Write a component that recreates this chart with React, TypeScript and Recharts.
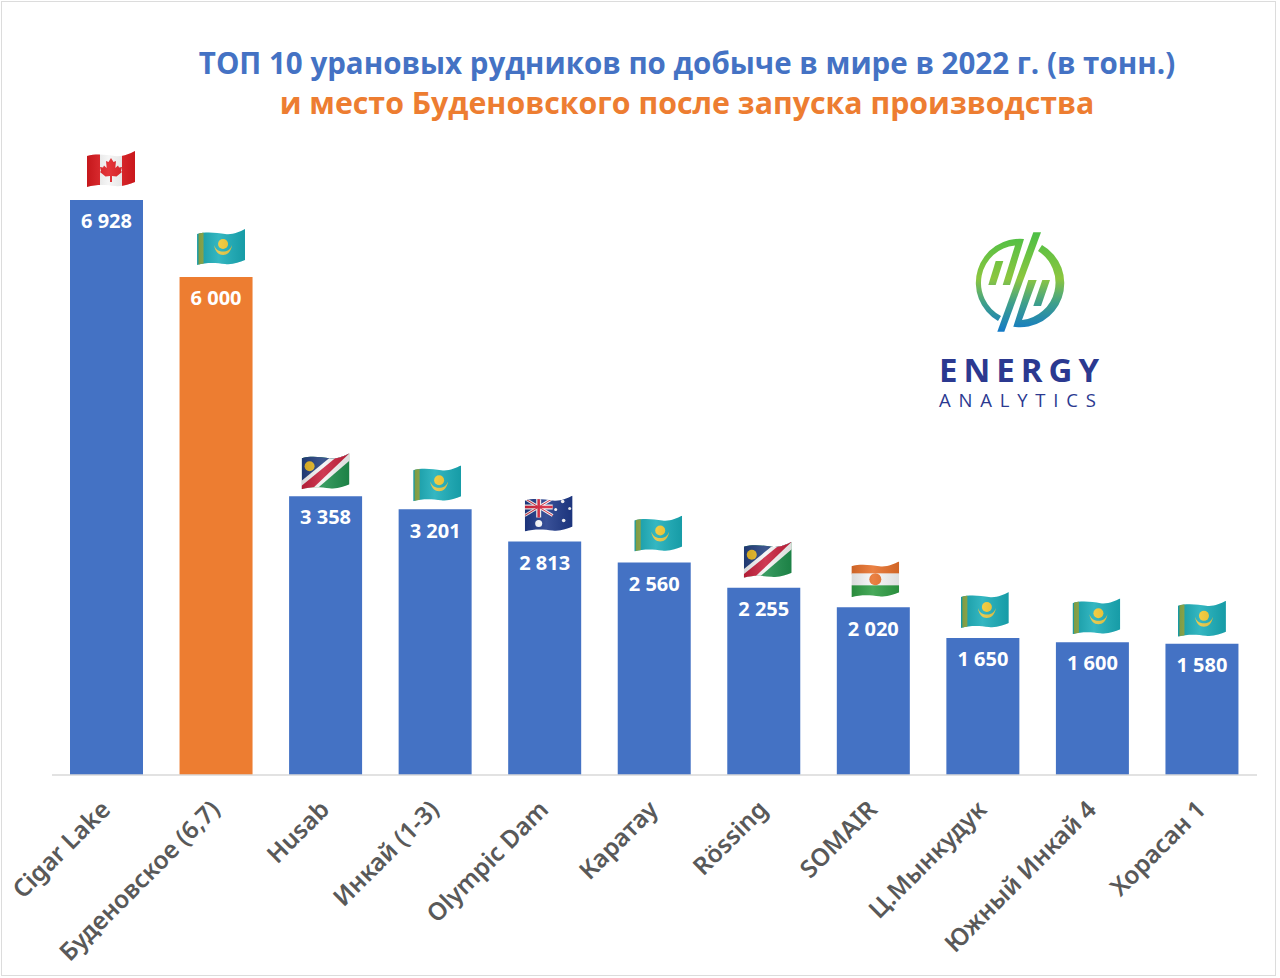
import { BarChart, Bar, XAxis, YAxis, Cell, LabelList } from 'recharts';

// Рудники и добыча, тонн
const mines = ['Cigar Lake', 'Буденовское (6,7)', 'Husab', 'Инкай (1-3)', 'Olympic Dam', 'Каратау', 'Rössing', 'SOMAIR', 'Ц.Мынкудук', 'Южный Инкай 4', 'Хорасан 1'];
const output = [6928, 6000, 3358, 3201, 2813, 2560, 2255, 2020, 1650, 1600, 1580];
const countries = ['ca', 'kz', 'na', 'kz', 'au', 'kz', 'na', 'ne', 'kz', 'kz', 'kz'];
const yTicks = [0, 7000];

const BLUE = '#4472C4';
const ORANGE = '#ED7D31';
const HIGHLIGHT = 'Буденовское (6,7)';

const data = mines.map((name, i) => ({ name, value: output[i], country: countries[i] }));

const FLAG_W = 48;
const FLAG_H = 36;
// небольшие сдвиги флагов относительно столбца
const flagDx = [4.5, 5, 0, 2, 4, 4, 4, 2, 2, 4, 0];
const flagDy = [-31, -30, -25, -26, -28, -29, -28, -28, -28, -26, -25];
const waveClip = 'M0 5 C10 2 20 4 28 5 C36 6 42 3 48 0 L48 31 C42 33 36 36 28 35 C20 34 10 33 0 36 Z';

function FlagBody({ country }: { country: string }) {
  if (country === 'ca') {
    return (
      <g>
        <rect width={48} height={38} fill="#f4f4f4" />
        <rect width={13} height={38} fill="#e01a1f" />
        <rect x={35} width={13} height={38} fill="#e01a1f" />
        <path d="M24 7 L26.5 11 L29 10 L28.3 17 L31 14.5 L32 16.5 L35 16 L34 20 L35 21 L29.5 25.5 L25 25 L25 31 L23 31 L23 25 L18.5 25.5 L13 21 L14 20 L13 16 L16 16.5 L17 14.5 L19.7 17 L19 10 L21.5 11 Z" fill="#e01a1f" />
      </g>
    );
  }
  if (country === 'kz') {
    return (
      <g>
        <rect width={48} height={38} fill="#19adb9" />
        <rect x={1.5} width={5} height={38} fill="#8fae4a" />
        <circle cx={26} cy={15} r={5} fill="#f1c62c" />
        <path d="M17 16 C18 23 22 26 26 26 C30 26 34 23 35 16 C33 21 30 22.5 26 22.5 C22 22.5 19 21 17 16 Z" fill="#e4c43c" />
      </g>
    );
  }
  if (country === 'na') {
    return (
      <g>
        <rect width={48} height={38} fill="#1f8f4d" />
        <path d="M0 0 L48 0 L0 36 Z" fill="#23407f" />
        <path d="M-2 29 L36 -2 L52 -2 L52 4 L10 40 L-2 40 Z" fill="#f5f5f5" />
        <path d="M-2 34 L42 -2 L50 -2 L6 40 L-2 40 Z" fill="#c8203c" />
        <circle cx={8} cy={13} r={5} fill="#e8b923" />
      </g>
    );
  }
  if (country === 'au') {
    return (
      <g>
        <rect width={48} height={38} fill="#1f3a8a" />
        <path d="M0 3 L28 20 M0 20 L28 3" stroke="#f2f2f2" strokeWidth={3} />
        <path d="M14 2 L14 22 M0 11.5 L28 11.5" stroke="#f2f2f2" strokeWidth={5} />
        <path d="M14 2 L14 22 M0 11.5 L28 11.5" stroke="#d6223a" strokeWidth={2.5} />
        <path d="M0 3 L28 20 M0 20 L28 3" stroke="#d6223a" strokeWidth={1} />
        <circle cx={14} cy={28} r={3.5} fill="#fff" />
        <circle cx={38} cy={6} r={1.8} fill="#fff" />
        <circle cx={31} cy={14} r={1.5} fill="#fff" />
        <circle cx={45} cy={13} r={1.5} fill="#fff" />
        <circle cx={39} cy={25} r={1.8} fill="#fff" />
      </g>
    );
  }
  // Нигер
  return (
    <g>
      <rect width={48} height={13} fill="#e8702a" />
      <rect y={12} width={48} height={13} fill="#f7f7f7" />
      <rect y={24} width={48} height={14} fill="#2f9e44" />
      <circle cx={24} cy={18} r={6} fill="#e8702a" />
    </g>
  );
}

function FlagLabel(props: any) {
  const { x, y, width, index } = props;
  const cx = x + width / 2 + flagDx[index];
  const top = y + flagDy[index] - FLAG_H / 2;
  const id = `flag-clip-${index}`;
  return (
    <g transform={`translate(${cx - FLAG_W / 2},${top})`}>
      <clipPath id={id}>
        <path d={waveClip} />
      </clipPath>
      <g clipPath={`url(#${id})`}>
        <FlagBody country={countries[index]} />
        <rect width={48} height={38} fill="url(#flagSheen)" />
      </g>
    </g>
  );
}

function AxisTick(props: any) {
  const { x, y, payload } = props;
  return (
    <text
      x={x + 5}
      y={y + 28}
      transform={`rotate(-45 ${x + 5} ${y + 28})`}
      textAnchor="end"
      fontFamily="'Noto Sans', sans-serif"
      fontSize={24.5}
      fontWeight={600}
      fill="#595959"
    >
      {payload.value}
    </text>
  );
}

function Logo() {
  return (
    <svg width={190} height={200} style={{ position: 'absolute', left: 930, top: 220 }}>
      <defs>
        <linearGradient id="logoGrad" gradientUnits="userSpaceOnUse" x1="0" y1="15" x2="0" y2="112">
          <stop offset="0%" stopColor="#4fbf45" />
          <stop offset="45%" stopColor="#8cc63f" />
          <stop offset="70%" stopColor="#3fa08a" />
          <stop offset="100%" stopColor="#1279c8" />
        </linearGradient>
      </defs>
      <path d="M68 101 A44 44 0 0 1 94 19 L80 65 L72.7 65 L85 25.5 A37.5 37.5 0 0 0 71 96 Z" fill="url(#logoGrad)" />
      <path d="M112 25 A44 44 0 0 1 83.3 106.7 L98.3 60 L106.7 60 L92 100 A37.5 37.5 0 0 0 108 31 Z" fill="url(#logoGrad)" />
      <path d="M103.3 12.3 L111 12.3 L74.3 111.7 L67.3 111.7 Z" fill="url(#logoGrad)" />
      <path d="M65.7 41 L73.3 41 L65.7 65 L58.3 65 Z" fill="url(#logoGrad)" />
      <path d="M112.3 60 L120 60 L111 86 L103.3 86 Z" fill="url(#logoGrad)" />
      <text x={9} y={162} fontFamily="'Open Sans', sans-serif" fontWeight={700} fontSize={33} letterSpacing={6} fill="#2b3990">ENERGY</text>
      <text x={9} y={187} fontFamily="'Open Sans', sans-serif" fontWeight={400} fontSize={18.5} letterSpacing={7.8} fill="#2b3990">ANALYTICS</text>
    </svg>
  );
}

export default function App() {
  return (
    <div style={{ position: 'absolute', left: 0, top: 0, width: 1280, height: 978, background: '#fff' }}>
      <div style={{ position: 'absolute', left: 1, top: 1, width: 1275, height: 975, border: '1px solid #dcdcdc', boxSizing: 'border-box' }} />
      <div style={{ position: 'absolute', left: 0, top: 43, width: 1374, textAlign: 'center', fontFamily: "'Open Sans', sans-serif", fontWeight: 700, fontSize: 29.5, lineHeight: '40px', whiteSpace: 'nowrap' }}>
        <div style={{ color: BLUE }}>ТОП 10 урановых рудников по добыче в мире в 2022 г. (в тонн.)</div>
        <div style={{ color: ORANGE, fontSize: 30.3 }}>и место Буденовского после запуска производства</div>
      </div>
      <BarChart
        width={1280}
        height={978}
        data={data}
        barSize={73}
        margin={{ top: 194, right: 23, bottom: 0, left: 52 }}
        style={{ position: 'absolute', left: 0, top: 0 }}
      >
        <defs>
          <linearGradient id="flagSheen" x1="0" y1="0" x2="1" y2="0">
            <stop offset="0%" stopColor="#000" stopOpacity={0.12} />
            <stop offset="45%" stopColor="#fff" stopOpacity={0.12} />
            <stop offset="100%" stopColor="#000" stopOpacity={0.1} />
          </linearGradient>
        </defs>
        <XAxis
          dataKey="name"
          interval={0}
          height={203}
          axisLine={{ stroke: '#D9D9D9', strokeWidth: 1.5 }}
          tickLine={false}
          tick={<AxisTick />}
        />
        <YAxis hide domain={[0, 7000]} ticks={yTicks} />
        <Bar dataKey="value" fill={BLUE} isAnimationActive={false}>
          {data.map((d) => (
            <Cell key={d.name} fill={d.name === HIGHLIGHT ? ORANGE : BLUE} />
          ))}
          <LabelList
            dataKey="value"
            position="insideTop"
            offset={14}
            formatter={(v: any) => String(v).replace(/(\d)(\d{3})$/, '$1 $2')}
            fill="#fff"
            fontFamily="'Open Sans', sans-serif"
            fontWeight={700}
            fontSize={20}
          />
          <LabelList dataKey="value" content={<FlagLabel />} />
        </Bar>
      </BarChart>
      <Logo />
    </div>
  );
}
